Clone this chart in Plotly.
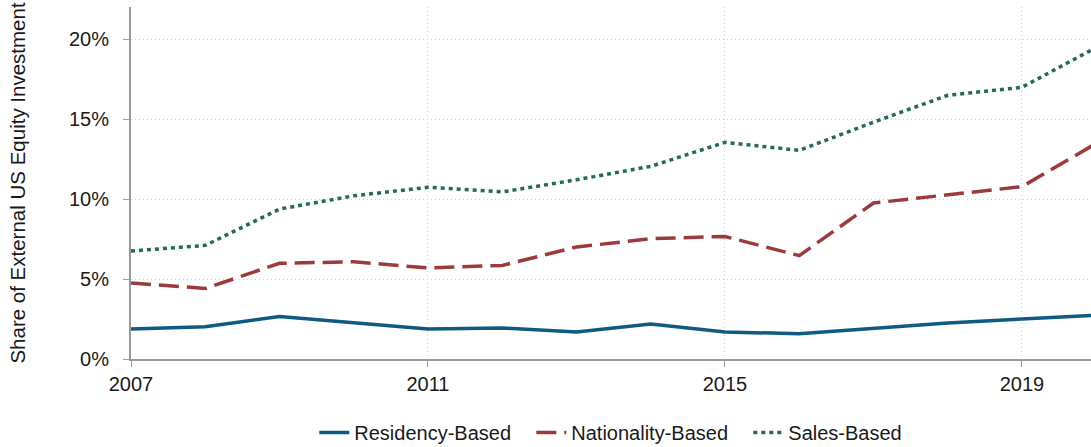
import plotly.graph_objects as go

years = list(range(2007, 2021))
residency = [1.88, 2.02, 2.66, 2.29, 1.88, 1.94, 1.69, 2.19, 1.69, 1.58, 1.94, 2.25, 2.50, 2.74]
nationality = [4.75, 4.41, 5.98, 6.08, 5.69, 5.85, 7.00, 7.52, 7.66, 6.46, 9.75, 10.25, 10.77, 13.48]
sales = [6.75, 7.10, 9.37, 10.20, 10.73, 10.44, 11.20, 12.04, 13.54, 13.04, 14.80, 16.48, 16.98, 19.47]

x_ticks = [2007, 2011, 2015, 2019]
y_ticks = [0, 5, 10, 15, 20]

FONT = "Liberation Sans, Arial, sans-serif"

fig = go.Figure()
fig.add_trace(go.Scatter(
    x=years, y=residency, mode="lines", name="Residency-Based",
    line=dict(color="#0e5a80", width=3.5),
))
fig.add_trace(go.Scatter(
    x=years, y=nationality, mode="lines", name="Nationality-Based",
    line=dict(color="#9c3b3b", width=3.5, dash="20px,8px"),
))
fig.add_trace(go.Scatter(
    x=years, y=sales, mode="lines", name="Sales-Based",
    line=dict(color="#24695f", width=3.5, dash="4px,4px"),
))

fig.update_layout(
    width=1091, height=452,
    paper_bgcolor="white", plot_bgcolor="white",
    font=dict(family=FONT, size=20, color="#1a1a1a"),
    margin=dict(l=131, r=0, t=7, b=93),
    showlegend=True,
    legend=dict(
        orientation="h", x=0.530, xanchor="center",
        y=0, yanchor="bottom", yref="container",
        font=dict(size=20), itemwidth=30, entrywidth=172,
    ),
)
fig.update_xaxes(
    range=[2007, 2019.93], tickvals=x_ticks, ticktext=[str(t) for t in x_ticks],
    showline=True, linecolor="#9a9a9a", linewidth=2,
    ticks="outside", ticklen=6, tickcolor="#9a9a9a",
    showgrid=True, gridcolor="#d0d0d0", griddash="1px,3px", gridwidth=1,
    zeroline=False, tickfont=dict(size=20), ticklabelstandoff=0,
)
fig.update_yaxes(
    range=[0, 22], tickvals=y_ticks, ticktext=[f"{t}%" for t in y_ticks],
    showline=True, linecolor="#9a9a9a", linewidth=2,
    ticks="outside", ticklen=6, tickcolor="#9a9a9a",
    showgrid=True, gridcolor="#d0d0d0", griddash="1px,3px", gridwidth=1,
    zeroline=False, tickfont=dict(size=20), ticklabelstandoff=10,
    title=dict(text="Share of External US Equity Investment", font=dict(size=20.5), standoff=38),
)

# drop the default page margin so the figure sits at the window's top-left corner
fig.write_html(
    "out.html",
    config={"displayModeBar": False},
    post_script="document.body.style.margin='0';document.body.style.overflow='hidden';",
)
